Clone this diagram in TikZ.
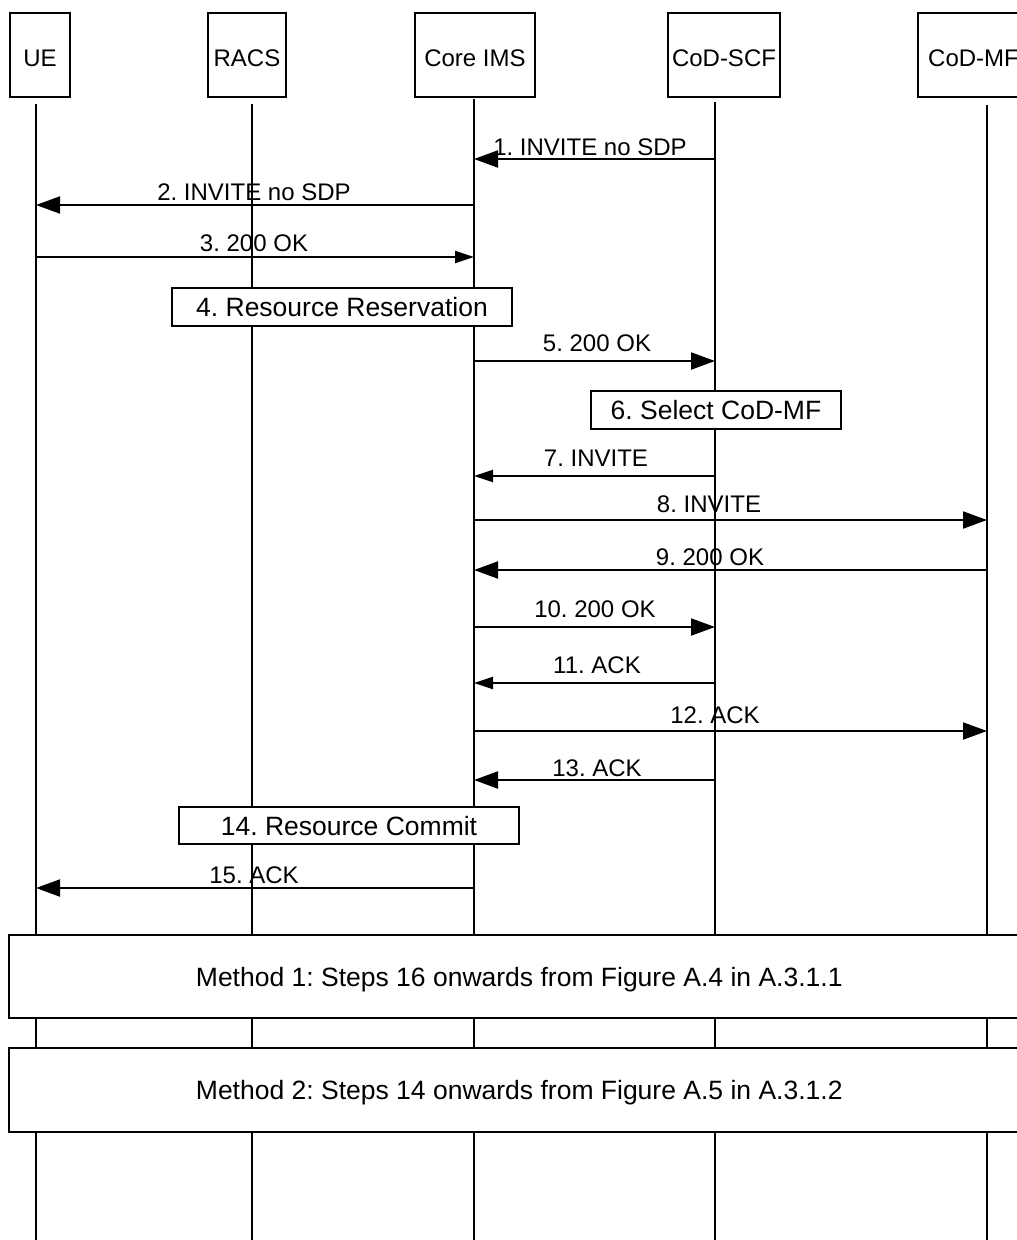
\documentclass[tikz,border=0pt]{standalone}
\usepackage{fontspec}
\setmainfont{Liberation Sans}
\usetikzlibrary{arrows.meta}
\frenchspacing
\begin{document}
\begin{tikzpicture}[x=1pt,y=-1pt,
  hdr/.style={draw, line width=2pt, fill=white, inner sep=0pt,
    font=\fontsize{24}{28}\selectfont, minimum height=84pt,
    text height=22pt, text depth=0pt},
  life/.style={line width=2pt},
  msg/.style={line width=2pt, -{Triangle[length=24pt,width=17pt]}},
  msgs/.style={line width=2pt, -{Triangle[length=19pt,width=12pt]}},
  lbl/.style={anchor=base, font=\fontsize{24}{28}\selectfont, inner sep=0pt},
  actbox/.style={draw, line width=2pt, fill=white, inner sep=0pt,
    font=\fontsize{26.5}{30}\selectfont, text height=19pt, text depth=0pt},
]
\useasboundingbox (0,0) rectangle (1017,1240);
\clip (0,0) rectangle (1017,1240);
\fill[white] (0,0) rectangle (1017,1240);

% header boxes
\node[hdr, minimum width=60pt]  (ue)   at (40,55)    {UE};
\node[hdr, minimum width=78pt]  (racs) at (247,55)   {RACS};
\node[hdr, minimum width=120pt] (core) at (475,55)   {Core IMS};
\node[hdr, minimum width=112pt] (scf)  at (724,55)   {CoD-SCF};
\node[hdr, minimum width=111pt] (mf)   at (973.5,55) {CoD-MF};

% lifeline tops
\coordinate (ueT)   at (36,104);
\coordinate (racsT) at (252,104);
\coordinate (coreT) at (474,99);
\coordinate (scfT)  at (715,102);
\coordinate (mfT)   at (987,105);

\draw[life] (ueT)   -- (ueT |- 0,1245);
\draw[life] (racsT) -- (racsT |- 0,1245);
\draw[life] (coreT) -- (coreT |- 0,1245);
\draw[life] (scfT)  -- (scfT |- 0,1245);
\draw[life] (mfT)   -- (mfT |- 0,1245);

% activity boxes
\node[actbox, minimum width=340pt, minimum height=38pt] (resres) at (342,307) {4. Resource Reservation};
\node[actbox, minimum width=250pt, minimum height=38pt] (selmf) at (716,410) {6. Select CoD-MF};
\node[actbox, minimum width=340pt, minimum height=37pt] (rescom) at (349,825.5) {14. Resource Commit};
\node[actbox, minimum width=1021.5pt, minimum height=83pt] (meth1) at (519.25,976.5) {Method 1: Steps 16 onwards from Figure A.4 in A.3.1.1};
\node[actbox, minimum width=1021.5pt, minimum height=84pt] (meth2) at (519.25,1090) {Method 2: Steps 14 onwards from Figure A.5 in A.3.1.2};

% messages
\draw[msg]  (scfT |- 0,159) -- (coreT |- 0,159);
\node[lbl] (l1) at (590,155) {1. INVITE no SDP};

\draw[msg]  (coreT |- 0,205) -- (ueT |- 0,205);
\node[lbl] (l2) at (254,200) {2. INVITE no SDP};

\draw[msgs] (ueT |- 0,257) -- (coreT |- 0,257);
\node[lbl] (l3) at (254,251) {3. 200 OK};

\draw[msg]  (coreT |- 0,361) -- (scfT |- 0,361);
\node[lbl] (l5) at (597,351) {5. 200 OK};

\draw[msgs] (scfT |- 0,476) -- (coreT |- 0,476);
\node[lbl] (l7) at (596,466) {7. INVITE};

\draw[msg]  (coreT |- 0,520) -- (mfT |- 0,520);
\node[lbl] (l8) at (709,512) {8. INVITE};

\draw[msg]  (mfT |- 0,570) -- (coreT |- 0,570);
\node[lbl] (l9) at (710,565) {9. 200 OK};

\draw[msg]  (coreT |- 0,627) -- (scfT |- 0,627);
\node[lbl] (l10) at (595,617) {10. 200 OK};

\draw[msgs] (scfT |- 0,683) -- (coreT |- 0,683);
\node[lbl] (l11) at (597,673) {11. ACK};

\draw[msg]  (coreT |- 0,731) -- (mfT |- 0,731);
\node[lbl] (l12) at (715,723) {12. ACK};

\draw[msg]  (scfT |- 0,780) -- (coreT |- 0,780);
\node[lbl] (l13) at (597,776) {13. ACK};

\draw[msg]  (coreT |- 0,888) -- (ueT |- 0,888);
\node[lbl] (l15) at (254,883) {15. ACK};
\end{tikzpicture}
\end{document}
